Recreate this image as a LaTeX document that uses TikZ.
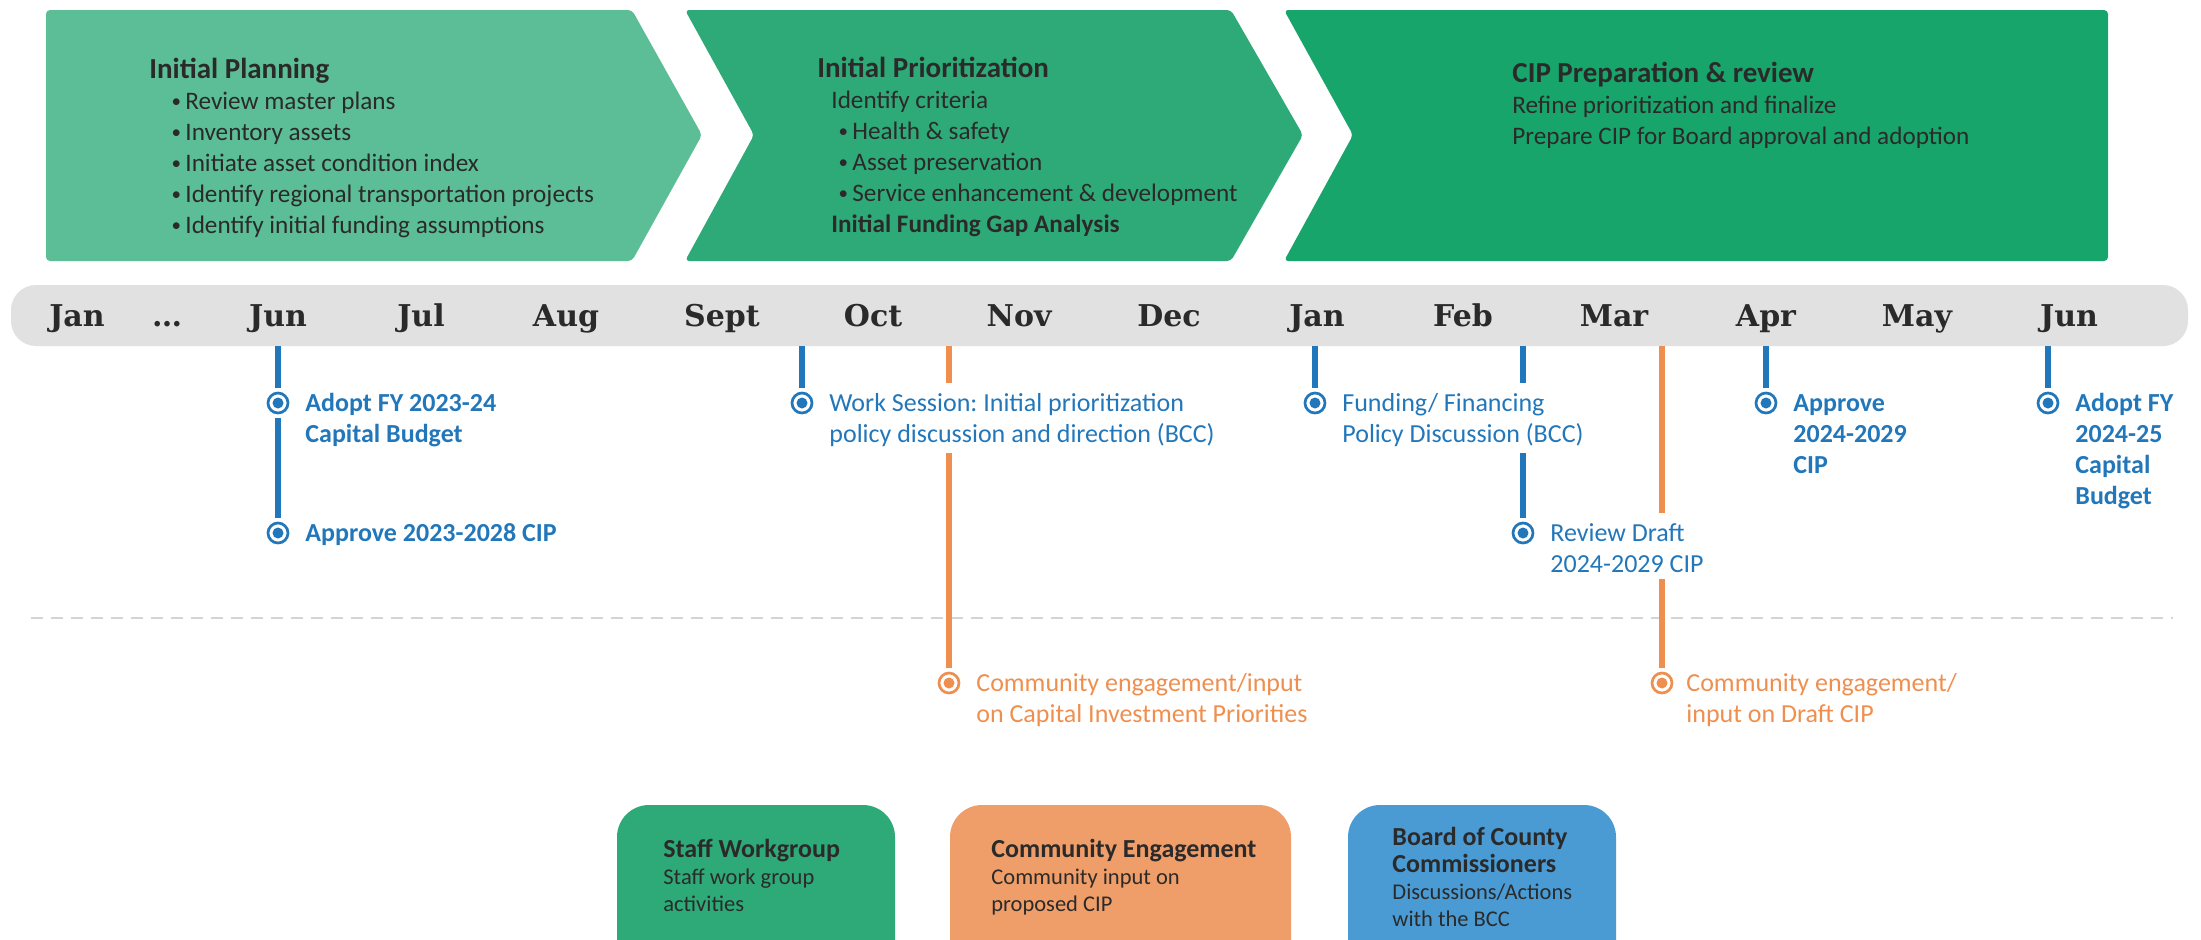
\documentclass[tikz,border=0pt]{standalone}
\usepackage{fontspec}
\setmainfont{Carlito}
\newfontfamily\monthfont{DejaVu Serif}
\usetikzlibrary{positioning}

\definecolor{phaseA}{HTML}{5BBE96}
\definecolor{phaseB}{HTML}{2EAA78}
\definecolor{phaseC}{HTML}{18A56B}
\definecolor{bccblue}{HTML}{2277BA}
\definecolor{comorange}{HTML}{EF8F4F}
\definecolor{bargray}{HTML}{E0E1E0}
\definecolor{dashgray}{HTML}{D4D4D4}
\definecolor{ink}{HTML}{2B2A2A}
\definecolor{legorange}{HTML}{EF9E6A}
\definecolor{legblue}{HTML}{4A9BD4}

\frenchspacing
\newcommand\phead{\fontsize{14.5}{15.5}\selectfont\bfseries}
\newcommand\lhead{\fontsize{13}{13.5}\selectfont\bfseries}
\newcommand\itembul{\makebox[7.5pt][l]{\hspace{0.6pt}\raisebox{1pt}{\fontsize{9.5}{9.5}\selectfont\textbullet}}}

\begin{document}
\begin{tikzpicture}[x=0.5pt, y=-0.5pt,
  phase/.style = {text=ink, inner sep=0pt, align=left, anchor=north west, font=\fontsize{12.6}{15.5}\selectfont},
  month/.style = {text=ink, anchor=base, font=\monthfont\bfseries\fontsize{15}{18}\selectfont},
  bar/.style = {fill=bargray, rounded corners=12.5pt, minimum width=1088.5pt, minimum height=30.5pt, inner sep=0pt, outer sep=0pt},
  evdot/.style = {circle, draw=#1, fill=white, line width=1.35pt, minimum size=10pt, inner sep=0pt, outer sep=2.5pt,
    path picture={\fill[#1] (path picture bounding box.center) circle (2.75pt);}},
  evtext/.style = {text=#1, inner sep=0pt, outer ysep=3.5pt, align=left, anchor=north west, font=\fontsize{13}{15.5}\selectfont},
  evbold/.style = {font=\fontsize{13}{15.5}\selectfont\bfseries},
  evline/.style = {draw=#1, line width=3pt},
  legbox/.style = {fill=#1, rounded corners=16pt, minimum height=85pt, inner sep=0pt, outer sep=0pt, anchor=north west},
  legtext/.style = {text=ink, inner sep=0pt, align=left, anchor=north west, font=\fontsize{11.25}{13.5}\selectfont}
]
\useasboundingbox (0,0) rectangle (2201,939);

\fill[phaseA, rounded corners=2pt] (46,10) -- (632,10) -- (702,135) -- (632,261) -- (46,261) -- cycle;
\fill[phaseB, rounded corners=2pt] (685,10) -- (1231,10) -- (1303,135) -- (1231,261) -- (685,261) -- (754,135) -- cycle;
\fill[phaseC, rounded corners=2pt] (1284,10) -- (2108,10) -- (2108,261) -- (1284,261) -- (1353,135) -- cycle;

\node[phase] (planning) at (149,56) {\strut{\phead Initial Planning}\\
  \hspace*{10.5pt}\itembul Review master plans\\
  \hspace*{10.5pt}\itembul Inventory assets\\
  \hspace*{10.5pt}\itembul Initiate asset condition index\\
  \hspace*{10.5pt}\itembul Identify regional transportation projects\\
  \hspace*{10.5pt}\itembul Identify initial funding assumptions};
\node[phase] (prioritize) at (817,55) {\strut{\phead Initial Prioritization}\\
  \hspace*{7pt}Identify criteria\\
  \hspace*{10pt}\itembul Health \& safety\\
  \hspace*{10pt}\itembul Asset preservation\\
  \hspace*{10pt}\itembul Service enhancement \& development\\
  \hspace*{7pt}{\bfseries Initial Funding Gap Analysis}};
\node[phase] (preparation) at (1512,60) {\strut{\phead CIP Preparation \& review}\\
  Refine prioritization and finalize\\
  Prepare CIP for Board approval and adoption};

\node[bar] (bar) at (1099.5,315.5) {};
\foreach \m/\x [count=\i] in {Jan/77, {\ldots}/167, Jun/278, Jul/421, Aug/566, Sept/722, Oct/873, Nov/1019, Dec/1169, Jan/1317, Feb/1463, Mar/1614, Apr/1766, May/1917, Jun/2069}
  \node[month] (mon\i) at (\x,326) {\m};

\draw[dashgray, line width=1pt, dash pattern=on 6pt off 4pt] (31,618) -- (2173,618);

\node[evdot=bccblue] (adopt1) at (278,403) {};
\node[evdot=bccblue] (approve1) at (278,533) {};
\node[evdot=bccblue] (worksess) at (802,403) {};
\node[evdot=bccblue] (funding) at (1315,403) {};
\node[evdot=bccblue] (review) at (1523,533) {};
\node[evdot=bccblue] (approve2) at (1766,403) {};
\node[evdot=bccblue] (adopt2) at (2048,403) {};
\node[evdot=comorange] (input1) at (949,683) {};
\node[evdot=comorange] (input2) at (1662,683) {};

\node[evtext=bccblue, evbold] (adopt1txt) at ([shift={(13.5pt,10.25pt)}]adopt1.center) {\strut Adopt FY 2023-24\\Capital Budget};
\node[evtext=bccblue, evbold] (approve1txt) at ([shift={(13.5pt,10.25pt)}]approve1.center) {\strut Approve 2023-2028 CIP};
\node[evtext=bccblue] (worksesstxt) at ([shift={(13.5pt,10.25pt)}]worksess.center) {\strut Work Session: Initial prioritization\\policy discussion and direction (BCC)};
\node[evtext=bccblue] (fundingtxt) at ([shift={(13.5pt,10.25pt)}]funding.center) {\strut Funding/ Financing\\Policy Discussion (BCC)};
\node[evtext=bccblue] (reviewtxt) at ([shift={(13.5pt,10.25pt)}]review.center) {\strut Review Draft\\2024-2029 CIP};
\node[evtext=bccblue, evbold] (approve2txt) at ([shift={(13.5pt,10.25pt)}]approve2.center) {\strut Approve\\2024-2029\\CIP};
\node[evtext=bccblue, evbold] (adopt2txt) at ([shift={(13.5pt,10.25pt)}]adopt2.center) {\strut Adopt FY\\2024-25\\Capital\\Budget};
\node[evtext=comorange] (input1txt) at ([shift={(13.5pt,10.25pt)}]input1.center) {\strut Community engagement/input\\on Capital Investment Priorities};
\node[evtext=comorange] (input2txt) at ([shift={(12pt,10.25pt)}]input2.center) {\strut Community engagement/\\input on Draft CIP};

\draw[evline=bccblue] (adopt1 |- bar.south) -- (adopt1);
\draw[evline=bccblue] (adopt1) -- (approve1);
\draw[evline=bccblue] (worksess |- bar.south) -- (worksess);
\draw[evline=bccblue] (funding |- bar.south) -- (funding);
\draw[evline=bccblue] (review |- bar.south) -- (review |- fundingtxt.north);
\draw[evline=bccblue] (review |- fundingtxt.south) -- (review);
\draw[evline=bccblue] (approve2 |- bar.south) -- (approve2);
\draw[evline=bccblue] (adopt2 |- bar.south) -- (adopt2);
\draw[evline=comorange] (input1 |- bar.south) -- (input1 |- worksesstxt.north);
\draw[evline=comorange] (input1 |- worksesstxt.south) -- (input1);
\draw[evline=comorange] (input2 |- bar.south) -- (input2 |- reviewtxt.north);
\draw[evline=comorange] (input2 |- reviewtxt.south) -- (input2);

\node[legbox=phaseB, minimum width=139pt] (staff) at (617,805) {};
\node[legtext] (stafftxt) at ([shift={(23pt,-16.5pt)}]staff.north west) {\strut{\lhead Staff Workgroup}\\Staff work group\\activities};
\node[legbox=legorange, minimum width=170.5pt] (community) at (950,805) {};
\node[legtext] (communitytxt) at ([shift={(20.5pt,-16.5pt)}]community.north west) {\strut{\lhead Community Engagement}\\Community input on\\proposed CIP};
\node[legbox=legblue, minimum width=134pt] (board) at (1348,805) {};
\node[legtext] (boardtxt) at ([shift={(22pt,-10.5pt)}]board.north west) {\strut{\lhead Board of County}\\{\lhead Commissioners}\\Discussions/Actions\\with the BCC};
\end{tikzpicture}
\end{document}
